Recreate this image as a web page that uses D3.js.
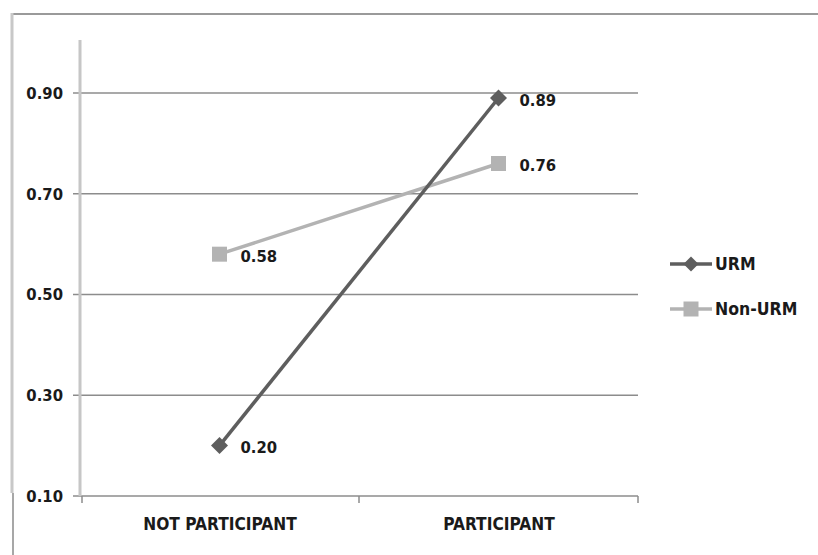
<!DOCTYPE html>
<html>
<head>
<meta charset="utf-8">
<script src="https://cdn.jsdelivr.net/npm/d3@7/dist/d3.min.js"></script>
<style>
  html, body { margin: 0; padding: 0; background: #fff; }
  svg { display: block; }
  text { font-family: "DejaVu Sans Condensed", "DejaVu Sans", sans-serif; font-stretch: condensed; font-weight: bold; fill: #1a1a1a; }
</style>
</head>
<body>
<svg id="chart" width="818" height="555"></svg>
<script>
// Chart data
const categories = ["NOT PARTICIPANT", "PARTICIPANT"];
const urmValues = [0.20, 0.89];
const nonUrmValues = [0.58, 0.76];
const yTickValues = [0.10, 0.30, 0.50, 0.70, 0.90];
const seriesNames = ["URM", "Non-URM"];

const svg = d3.select("#chart");
const FONT = "DejaVu Sans Condensed";

const plot = { left: 80, right: 638, top: 40, bottom: 496 };

const x = d3.scaleBand().domain(categories).range([plot.left, plot.right]);
const xc = d => x(d) + x.bandwidth() / 2;
const y = d3.scaleLinear().domain([0.1, 1.0]).range([plot.bottom, 42.6]);

const series = [
  { name: seriesNames[0], values: urmValues, color: "#5e5e5e", marker: "diamond" },
  { name: seriesNames[1], values: nonUrmValues, color: "#b3b3b3", marker: "square" }
];

function styleText(sel, size) {
  sel.style("font-size", size + "px").style("font-family", FONT)
    .style("font-weight", "bold").attr("fill", "#1a1a1a");
}

// Outer frame
svg.append("line").attr("x1", 12).attr("x2", 818).attr("y1", 14).attr("y2", 14)
  .attr("stroke", "#9a9a9a").attr("stroke-width", 2);
svg.append("line").attr("x1", 12).attr("x2", 12).attr("y1", 13).attr("y2", 493)
  .attr("stroke", "#c8c8c8").attr("stroke-width", 3);
svg.append("line").attr("x1", 13).attr("x2", 13).attr("y1", 493).attr("y2", 555)
  .attr("stroke", "#8a8a8a").attr("stroke-width", 1.5);

// Horizontal gridlines (extend left past the axis as tick marks)
svg.append("g").selectAll("line").data(yTickValues).join("line")
  .attr("x1", plot.left - 7).attr("x2", plot.right)
  .attr("y1", d => y(d)).attr("y2", d => y(d))
  .attr("stroke", "#8c8c8c").attr("stroke-width", 1.5);

// Y axis labels
const yAxis = d3.axisLeft(y).tickValues(yTickValues).tickFormat(d3.format(".2f"))
  .tickSize(0).tickPadding(17);
const gy = svg.append("g").attr("transform", `translate(${plot.left},0)`).call(yAxis);
gy.select(".domain").remove();
styleText(gy.selectAll("text"), 16.5);

// Y axis line
svg.append("line").attr("x1", plot.left).attr("x2", plot.left)
  .attr("y1", plot.top).attr("y2", plot.bottom)
  .attr("stroke", "#c6c6c6").attr("stroke-width", 3);

// X axis ticks at category boundaries
const boundaries = categories.map(c => x(c)).concat([plot.right]);
svg.append("g").selectAll("line").data(boundaries).join("line")
  .attr("x1", d => d + (d === plot.left ? 2 : 0)).attr("x2", d => d + (d === plot.left ? 2 : 0))
  .attr("y1", plot.bottom).attr("y2", plot.bottom + 7)
  .attr("stroke", "#8c8c8c").attr("stroke-width", 1.5);

// X axis labels
const xAxis = d3.axisBottom(d3.scalePoint().domain(categories).range(categories.map(xc)))
  .tickSize(0).tickPadding(22);
const gx = svg.append("g").attr("transform", `translate(0,${plot.bottom})`).call(xAxis);
gx.select(".domain").remove();
styleText(gx.selectAll("text"), 17.2);

// Marker shapes
function markerPath(type, s) {
  if (type === "diamond") return `M0,${-s}L${s},0L0,${s}L${-s},0Z`;
  return `M${-s},${-s}H${s}V${s}H${-s}Z`;
}

const line = d3.line().x((d, i) => xc(categories[i])).y(d => y(d));

// Lines: Non-URM below URM
[series[1], series[0]].forEach(s => {
  svg.append("path").datum(s.values).attr("d", line)
    .attr("fill", "none").attr("stroke", s.color).attr("stroke-width", 3.5);
});
[series[1], series[0]].forEach(s => {
  svg.append("g").selectAll("path").data(s.values).join("path")
    .attr("transform", (d, i) => `translate(${xc(categories[i])},${y(d)})`)
    .attr("d", markerPath(s.marker, s.marker === "diamond" ? 8.5 : 7.5))
    .attr("fill", s.color);
});

// Data labels
series.forEach(s => {
  const g = svg.append("g");
  g.selectAll("text").data(s.values).join("text")
    .attr("x", (d, i) => xc(categories[i]) + 21)
    .attr("y", d => y(d) + 2)
    .attr("dy", "0.35em")
    .text(d => d3.format(".2f")(d));
  styleText(g.selectAll("text"), 16.5);
});

// Legend
const legend = svg.append("g").attr("transform", "translate(670,264)");
series.forEach((s, i) => {
  const g = legend.append("g").attr("transform", `translate(0,${i * 45})`);
  g.append("line").attr("x1", 0).attr("x2", 42).attr("y1", 0).attr("y2", 0)
    .attr("stroke", s.color).attr("stroke-width", 3.5);
  g.append("path").attr("transform", "translate(21,0)")
    .attr("d", markerPath(s.marker, 7.5)).attr("fill", s.color);
  const t = g.append("text").attr("x", 45).attr("y", 0).attr("dy", "0.35em").text(s.name);
  styleText(t, 17.5);
});
</script>
</body>
</html>
